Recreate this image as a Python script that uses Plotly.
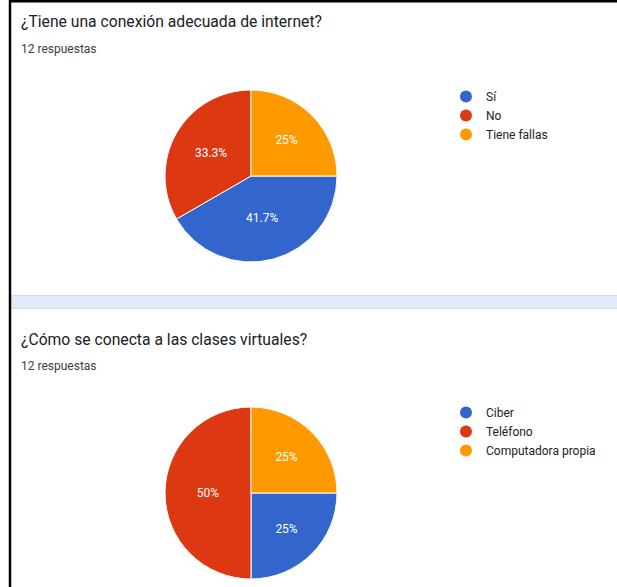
import plotly.graph_objects as go

W, H = 617, 587

# ---- data ----
q1_title = "¿Tiene una conexión adecuada de internet?"
q1_labels = ["Sí", "No", "Tiene fallas"]
q1_counts = [5, 4, 3]

q2_title = "¿Cómo se conecta a las clases virtuales?"
q2_labels = ["Ciber", "Teléfono", "Computadora propia"]
q2_counts = [3, 6, 3]

responses_text = "12 respuestas"
colors = ["#3366cc", "#dc3912", "#ff9900"]


def px(x):
    return x / W


def py(y):
    return 1 - y / H


FONT = "Roboto, Arial, sans-serif"

fig = go.Figure()


def add_pie(labels, counts, x0, x1, y0, y1):
    fig.add_trace(go.Pie(
        labels=labels, values=counts, sort=False, direction="clockwise",
        rotation=90, marker=dict(colors=colors, line=dict(color="white", width=1)),
        textinfo="percent", textposition="inside", insidetextorientation="horizontal",
        textfont=dict(color="white", size=12, family=FONT),
        domain=dict(x=[px(x0), px(x1)], y=[py(y1), py(y0)]),
        showlegend=False, hoverinfo="label+percent",
    ))


add_pie(q1_labels, q1_counts, 165, 337, 90, 262)
add_pie(q2_labels, q2_counts, 165, 337, 407, 579)

# legend entries (circle markers)
for lab, c in zip(q1_labels, colors):
    fig.add_trace(go.Scatter(x=[None], y=[None], mode="markers", name=lab,
                             marker=dict(color=c, size=12, symbol="circle"),
                             legend="legend", hoverinfo="skip"))
for lab, c in zip(q2_labels, colors):
    fig.add_trace(go.Scatter(x=[None], y=[None], mode="markers", name=lab,
                             marker=dict(color=c, size=12, symbol="circle"),
                             legend="legend2", hoverinfo="skip"))

leg_common = dict(font=dict(family=FONT, size=12, color="#222222"),
                  bgcolor="rgba(0,0,0,0)", xanchor="left", yanchor="top",
                  tracegroupgap=0, itemsizing="constant")

annotations = []
for title, ytitle, yresp in [(q1_title, 21, 49), (q2_title, 339, 366)]:
    annotations.append(dict(text=title, x=px(19), y=py(ytitle), xref="paper", yref="paper",
                            xanchor="left", yanchor="middle", showarrow=False,
                            font=dict(family=FONT, size=15.7, color="#202124")))
    annotations.append(dict(text=responses_text, x=px(19), y=py(yresp), xref="paper", yref="paper",
                            xanchor="left", yanchor="middle", showarrow=False,
                            font=dict(family=FONT, size=12, color="#3c4043")))

shapes = [
    # separator band
    dict(type="rect", xref="paper", yref="paper", x0=px(11), x1=1, y0=py(308), y1=py(295.5),
         fillcolor="#e3ebfb", line=dict(width=0), layer="below"),
    dict(type="line", xref="paper", yref="paper", x0=px(11), x1=1, y0=py(295.5), y1=py(295.5),
         line=dict(color="#dadce0", width=1)),
    dict(type="line", xref="paper", yref="paper", x0=px(11), x1=1, y0=py(308.5), y1=py(308.5),
         line=dict(color="#dadce0", width=1)),
    # outer black borders
    dict(type="line", xref="paper", yref="paper", x0=px(10), x1=px(10), y0=0, y1=1,
         line=dict(color="#000000", width=2.5)),
    dict(type="line", xref="paper", yref="paper", x0=px(9), x1=1, y0=py(1.2), y1=py(1.2),
         line=dict(color="#000000", width=2.5)),
]

fig.update_layout(
    width=W, height=H, margin=dict(l=0, r=0, t=0, b=0),
    paper_bgcolor="white", plot_bgcolor="white",
    xaxis=dict(visible=False), yaxis=dict(visible=False),
    legend=dict(x=px(446), y=py(82), **leg_common),
    legend2=dict(x=px(446), y=py(398), **leg_common),
    annotations=annotations, shapes=shapes,
    font=dict(family=FONT),
)

fig.write_html("out.html", config={"displayModeBar": False},
               post_script="document.body.style.margin='0';document.body.style.overflow='hidden';")
